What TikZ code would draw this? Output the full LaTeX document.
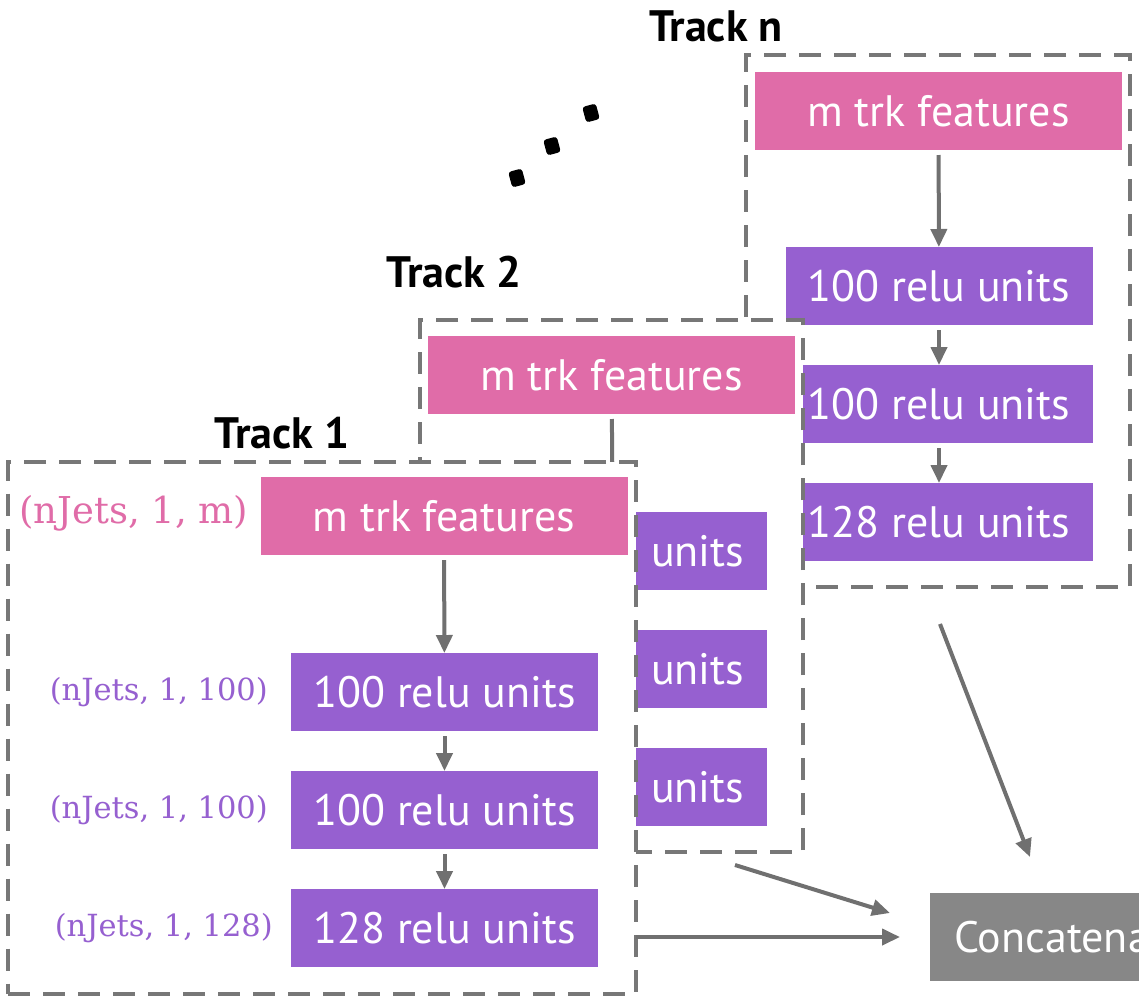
\documentclass[tikz,border=0pt]{standalone}
\usepackage{fontspec}
\setmainfont{PT Sans}
\newfontfamily\shapefont{DejaVu Serif}
\usetikzlibrary{arrows.meta}
\definecolor{featpink}{HTML}{E06CA8}
\definecolor{relupurple}{HTML}{9660D0}
\definecolor{framegray}{HTML}{777777}
\definecolor{arrowgray}{HTML}{707070}
\definecolor{concatgray}{HTML}{878787}
\tikzset{
  trackframe/.style={draw=framegray, fill=white, line width=4pt,
    dash pattern=on 22pt off 13pt, minimum width=#1, minimum height=532pt,
    inner sep=0pt, outer sep=0pt},
  layer/.style={fill=#1, text=white, font=\fontsize{44}{48}\selectfont,
    minimum height=78pt, inner sep=0pt, outer sep=0pt},
  featbox/.style={layer=featpink, minimum width=367pt},
  relubox/.style={layer=relupurple, minimum width=307pt},
  flow/.style={draw=arrowgray, line width=4pt,
    -{Triangle[length=18pt,width=16pt]}, shorten <=5pt},
  tracklabel/.style={font=\fontsize{44}{48}\selectfont\bfseries, text=black, inner sep=0pt},
  shapelabel/.style={font=\shapefont\fontsize{#1}{#1}\selectfont, inner sep=0pt, anchor=east},
  dot/.style={fill=black, rounded corners=3pt}
}
\begin{document}
\begin{tikzpicture}[x=1pt,y=-1pt]
\useasboundingbox (0,0) rectangle (1139,1001);
\clip (0,0) rectangle (1139,1001);

% ---- Track n (back layer) ----
\node[trackframe=384pt] (tnbox) at (938,321) {};
\node[tracklabel] (tnlab) at (716,26) {Track n};
\node[featbox] (tnf) at (938.5,111) {m trk features};
\node[relubox] (tna) at (939,286) {100 relu units};
\node[relubox] (tnb) at (939,404) {100 relu units};
\node[relubox] (tnc) at (939,522) {128 relu units};
\draw[flow] (tnf) -- (tna);
\draw[flow] (tna) -- (tnb);
\draw[flow] (tnb) -- (tnc);

% ---- ellipsis between the stacked tracks ----
\foreach \px/\py [count=\i] in {517/178, 552/146, 591/113}
  \node[dot, minimum width=14pt, minimum height=16pt, inner sep=0pt, rotate=15] (ell\i) at (\px,\py) {};

% ---- Track 2 (middle layer) ----
\node[trackframe=383pt] (t2box) at (611.5,586) {};
\node[tracklabel] (t2lab) at (454,272) {Track 2};
\node[featbox] (t2f) at (611.5,375) {m trk features};
\node[relubox] (t2a) at (613,551) {100 relu units};
\node[relubox] (t2b) at (613,669) {100 relu units};
\node[relubox] (t2c) at (613,787) {128 relu units};
\draw[flow] (t2f) -- (t2a);
\draw[flow] (t2a) -- (t2b);
\draw[flow] (t2b) -- (t2c);

% ---- Track 1 (front layer) ----
\node[trackframe=628pt] (t1box) at (322,727.5) {};
\node[tracklabel] (t1lab) at (282,433) {Track 1};
\node[featbox] (t1f) at (444,516) {m trk features};
\node[relubox] (t1a) at (444.5,692) {100 relu units};
\node[relubox] (t1b) at (444.5,810) {100 relu units};
\node[relubox] (t1c) at (444.5,928) {128 relu units};
\draw[flow] (t1f) -- (t1a);
\draw[flow] (t1a) -- (t1b);
\draw[flow] (t1b) -- (t1c);

% tensor shapes
\node[shapelabel=37, text=featpink] (s0) at ([xshift=-12pt,yshift=3pt]t1f.west) {(nJets, 1, m)};
\node[shapelabel=30.5, text=relupurple] (s1) at ([xshift=-23pt]t1a.west) {(nJets, 1, 100)};
\node[shapelabel=30.5, text=relupurple] (s2) at ([xshift=-23pt]t1b.west) {(nJets, 1, 100)};
\node[shapelabel=30.5, text=relupurple] (s3) at ([xshift=-18pt]t1c.west) {(nJets, 1, 128)};

% ---- merge ----
\fill[concatgray] (930,893) rectangle (1160,981);
\node[text=white, font=\fontsize{44}{48}\selectfont, inner sep=0pt, anchor=west]
  (cat) at (954,937) {Concatenate};
\coordinate (catin) at (930,937);
\coordinate (from2) at (735,865);
\coordinate (to2) at (890,913);
\coordinate (fromn) at (940,624);
\coordinate (ton) at (1030,857);
\draw[flow, shorten <=0pt, shorten >=30pt] (t1box.east |- catin) -- (catin);
\draw[flow, shorten <=0pt] (from2) -- (to2);
\draw[flow, shorten <=0pt] (fromn) -- (ton);
\end{tikzpicture}
\end{document}
